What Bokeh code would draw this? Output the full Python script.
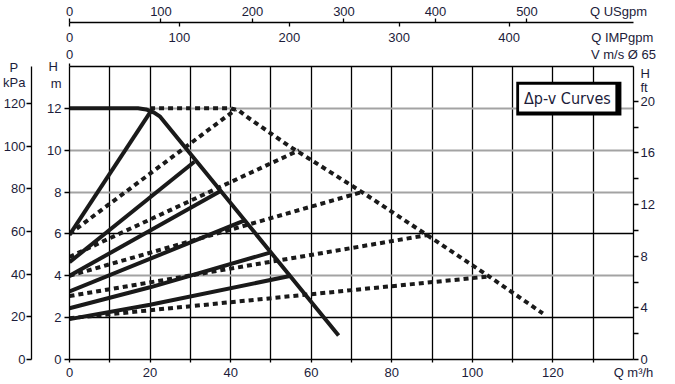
from bokeh.plotting import figure
from bokeh.models import LinearAxis, Range1d, FixedTicker, Grid, Label
from bokeh.embed import file_html
from bokeh.resources import INLINE

# ---------------- data (Q in m3/h, H in m) ----------------
max_solid_q = [0, 17, 19, 21, 22.5, 66.8]
max_solid_h = [12, 12, 11.95, 11.8, 11.6, 1.15]

solid_q = [[0, 20.5], [0, 31], [0, 37.5], [0, 43.5], [0, 20, 50], [0, 20, 55]]
solid_h = [[5.95, 11.95], [4.65, 9.45], [4.0, 8.05], [3.25, 6.65],
           [2.45, 3.45, 5.12], [1.93, 2.62, 4.0]]

max_dot_q = [20, 40, 42, 44, 54.5, 72.6, 89.1, 104.3, 117.5]
max_dot_h = [12, 12, 11.9, 11.6, 10.2, 8.0, 5.9, 3.95, 2.2]

dot_q = [[0, 41.3], [0, 57], [0, 72.6], [0, 89], [0, 104.3]]
dot_h = [[6.0, 11.95], [4.9, 10.0], [4.0, 8.0], [3.03, 5.95], [1.97, 3.97]]

q_ticks = [0, 20, 40, 60, 80, 100, 120]
q_marks = [0, 10, 20, 30, 40, 50, 60, 70, 80, 90, 100, 110, 120, 130]
h_ticks = [0, 2, 4, 6, 8, 10, 12]
kpa_ticks = [0, 20, 40, 60, 80, 100, 120]
ft_ticks = [0, 4, 8, 12, 16, 20]
ft_marks = [0, 2, 4, 6, 8, 10, 12, 14, 16, 18, 20]
us_ticks = [0, 100, 200, 300, 400, 500]
imp_ticks = [0, 100, 200, 300, 400]
v_ticks = [0]
grid_x = [10, 20, 30, 40, 50, 60, 70, 80, 90, 100, 110, 120, 130]
grid_black_h = [2, 6]
grid_gray_h = [4, 8, 10, 12]

# unit titles and where they sit along their axes
q_titles = {140.0: "Q m³/h"}
us_titles = {600.0: "Q USgpm"}
imp_titles = {503.0: "Q IMPgpm"}
v_titles = {137.5: "V m/s Ø 65"}
kpa_titles = {137.0: "P\u00a0\u00a0", 130.0: "kPa"}
hm_titles = {14.0: "H\u00a0", 13.2: "m"}
ft_titles = {22.15: "H", 21.04: "ft"}

Q_MAX, H_MAX = 140, 14
KPA_PER_M = 9.81
FT_TOP = 22.69
US_PER_M3H = 4.4029
IMP_PER_M3H = 3.6661

FONT = "Liberation Sans"
TXT = "#1c1c3a"
FS = "13px"
CURVE = "#1a1a1a"

p = figure(frame_width=564, frame_height=293,
           x_range=Range1d(0, Q_MAX), y_range=Range1d(0, H_MAX),
           output_backend="svg", toolbar_location=None,
           min_border_left=62, min_border_right=33,
           min_border_top=0, min_border_bottom=0,
           x_axis_location=None, y_axis_location=None,
           background_fill_color="white", border_fill_color="white")
p.outline_line_color = None
p.grid.visible = False

p.extra_y_ranges = {"kpa": Range1d(0, H_MAX * KPA_PER_M), "ft": Range1d(0, FT_TOP)}
p.extra_x_ranges = {"us": Range1d(0, Q_MAX * US_PER_M3H), "imp": Range1d(0, Q_MAX * IMP_PER_M3H)}


def make_axis(ticks=(), titles=None, marks=(), out=0, standoff=2, line=True, **kw):
    """labels sit on (hidden) major ticks; visible tick marks are minor ticks"""
    titles = titles or {}
    allt = [float(t) for t in ticks] + [float(k) for k in titles]
    ax = LinearAxis(ticker=FixedTicker(ticks=allt, minor_ticks=[float(m) for m in marks]), **kw)
    ov = {float(t): str(t) for t in ticks}
    ov.update({float(k): v for k, v in titles.items()})
    ax.major_label_overrides = ov
    ax.axis_line_color = "black" if line else None
    ax.axis_line_width = 1.3
    ax.major_tick_line_color = None
    ax.major_tick_out = out
    ax.major_tick_in = 0
    ax.minor_tick_line_color = "black"
    ax.minor_tick_line_width = 1.3
    ax.minor_tick_out = out
    ax.minor_tick_in = 0
    ax.major_label_standoff = standoff
    ax.major_label_text_font = FONT
    ax.major_label_text_font_size = FS
    ax.major_label_text_color = TXT
    return ax


# bottom
p.add_layout(make_axis(q_ticks, q_titles, q_marks, out=3, standoff=2), "below")

# left: H m
hl = make_axis(h_ticks, hm_titles, h_ticks, out=5, standoff=3)
hl.axis_label = " "
hl.axis_label_text_font_size = "8px"
hl.axis_label_standoff = 1
p.add_layout(hl, "left")

# left: P kPa
p.add_layout(make_axis(kpa_ticks, kpa_titles, kpa_ticks, out=5, standoff=1, y_range_name="kpa"), "left")

# right: H ft
p.add_layout(make_axis(ft_ticks, ft_titles, ft_marks, out=5, standoff=2, y_range_name="ft"), "right")

# top (stacked upward from the frame)
p.add_layout(make_axis(v_ticks, v_titles, v_ticks, out=3, standoff=2), "above")
p.add_layout(make_axis(imp_ticks, imp_titles, (), out=0, standoff=-1, line=False, x_range_name="imp"), "above")
p.add_layout(make_axis((), None, imp_ticks, out=4, standoff=0, line=False, x_range_name="imp"), "above")
p.add_layout(make_axis(us_ticks, us_titles, us_ticks, out=4, standoff=0, x_range_name="us"), "above")

# grids
p.add_layout(Grid(dimension=0, ticker=FixedTicker(ticks=grid_x),
                  grid_line_color="black", grid_line_width=1.3))
p.add_layout(Grid(dimension=1, ticker=FixedTicker(ticks=grid_gray_h),
                  grid_line_color="#a3a3a3", grid_line_width=2))
p.add_layout(Grid(dimension=1, ticker=FixedTicker(ticks=grid_black_h),
                  grid_line_color="black", grid_line_width=1.3))

# curves
for qs, hs in zip(dot_q, dot_h):
    p.line(qs, hs, line_color=CURVE, line_width=4, line_dash="5 4", line_cap="butt")
p.line(max_dot_q, max_dot_h, line_color=CURVE, line_width=4, line_dash="5 4", line_cap="butt")
for qs, hs in zip(solid_q, solid_h):
    p.line(qs, hs, line_color=CURVE, line_width=4, line_cap="butt")
p.line(max_solid_q, max_solid_h, line_color=CURVE, line_width=4, line_join="round")

# legend box with shadow
p.quad(left=[110.9], right=[137.0], top=[13.27], bottom=[11.66], fill_color="black", line_color=None)
p.quad(left=[111.6], right=[135.5], top=[13.13], bottom=[11.85], fill_color="white", line_color=None)
p.add_layout(Label(x=123.6, y=12.49, text="Δp-v Curves", text_font="DejaVu Sans Condensed",
                   text_font_size="16px", text_color=TXT, text_align="center", text_baseline="middle"))

open("out.html", "w").write(file_html(p, INLINE))
